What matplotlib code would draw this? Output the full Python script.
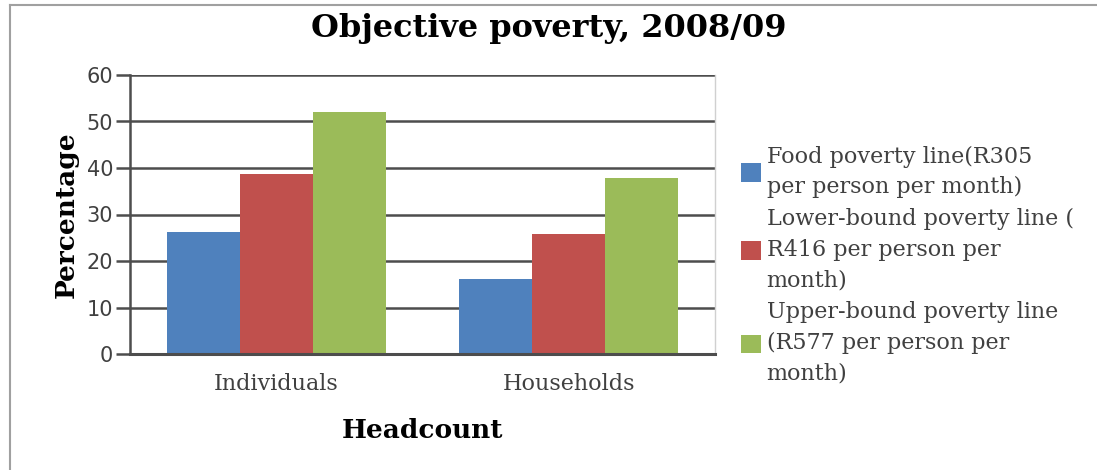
import matplotlib
matplotlib.use("Agg")
import matplotlib.pyplot as plt
import numpy as np

categories = ["Individuals", "Households"]
series_names = [
    "Food poverty line(R305\nper person per month)",
    "Lower-bound poverty line (\nR416 per person per\nmonth)",
    "Upper-bound poverty line\n(R577 per person per\nmonth)",
]
food = [26.2, 16.2]
lower = [38.8, 25.9]
upper = [52.1, 37.9]
colors = ["#4f81bd", "#c0504d", "#9bbb59"]

W, H = 1097, 470
fig = plt.figure(figsize=(W / 100, H / 100), dpi=100)
ax = fig.add_axes([130 / W, (H - 354) / H, 585 / W, 279 / H])

x = np.arange(len(categories))
bw = 0.25
for i, (vals, name) in enumerate(zip([food, lower, upper], series_names)):
    ax.bar(x + (i - 1) * bw, vals, width=bw, color=colors[i], label=name, zorder=3)

ax.set_xlim(-0.5, 1.5)
ax.set_ylim(0, 60)
ax.set_yticks(range(0, 61, 10))
ax.yaxis.grid(True, color="#4d4d4d", linewidth=1.8, zorder=0)
ax.set_axisbelow(True)

for s in ["top", "bottom"]:
    ax.spines[s].set_visible(False)
ax.spines["left"].set_color("#4d4d4d")
ax.spines["left"].set_linewidth(1.8)
ax.spines["right"].set_color("#d0d0d0")
ax.spines["right"].set_linewidth(1)
ax.axhline(0, color="#4d4d4d", linewidth=2.2, zorder=4, clip_on=False)

ax.tick_params(axis="y", length=10, width=1.8, color="#4d4d4d", labelsize=15,
               labelcolor="#404040", pad=2)
ax.tick_params(axis="x", length=0, pad=14)
ax.set_xticks(x)
ax.set_xticklabels(categories, fontfamily="DejaVu Serif", fontsize=16, color="#404040")

ax.set_ylabel("Percentage", fontfamily="DejaVu Serif", fontweight="bold", fontsize=19, labelpad=6)
ax.set_xlabel("Headcount", fontfamily="DejaVu Serif", fontweight="bold", fontsize=19, labelpad=16)

fig.text(0.5, 1 - 29 / H, "Objective poverty, 2008/09", ha="center", va="center",
         fontfamily="DejaVu Serif", fontweight="bold", fontsize=23)

leg = fig.legend(loc="center left", bbox_to_anchor=(730 / W, 1 - 265 / H), frameon=False,
                 prop={"family": "DejaVu Serif", "size": 16}, handlelength=0.9,
                 handleheight=0.9, handletextpad=0.25, labelspacing=0.45, borderpad=0)
for t in leg.get_texts():
    t.set_color("#404040")
    t.set_linespacing(1.5)

# border around the chart area
fig.add_artist(plt.Line2D([10 / W, 10 / W], [0, 1 - 5 / H], color="#a0a0a0", linewidth=1.5))
fig.add_artist(plt.Line2D([10 / W, 1], [1 - 5 / H, 1 - 5 / H], color="#a0a0a0", linewidth=1.5))

fig.savefig("out.png", dpi=100)
